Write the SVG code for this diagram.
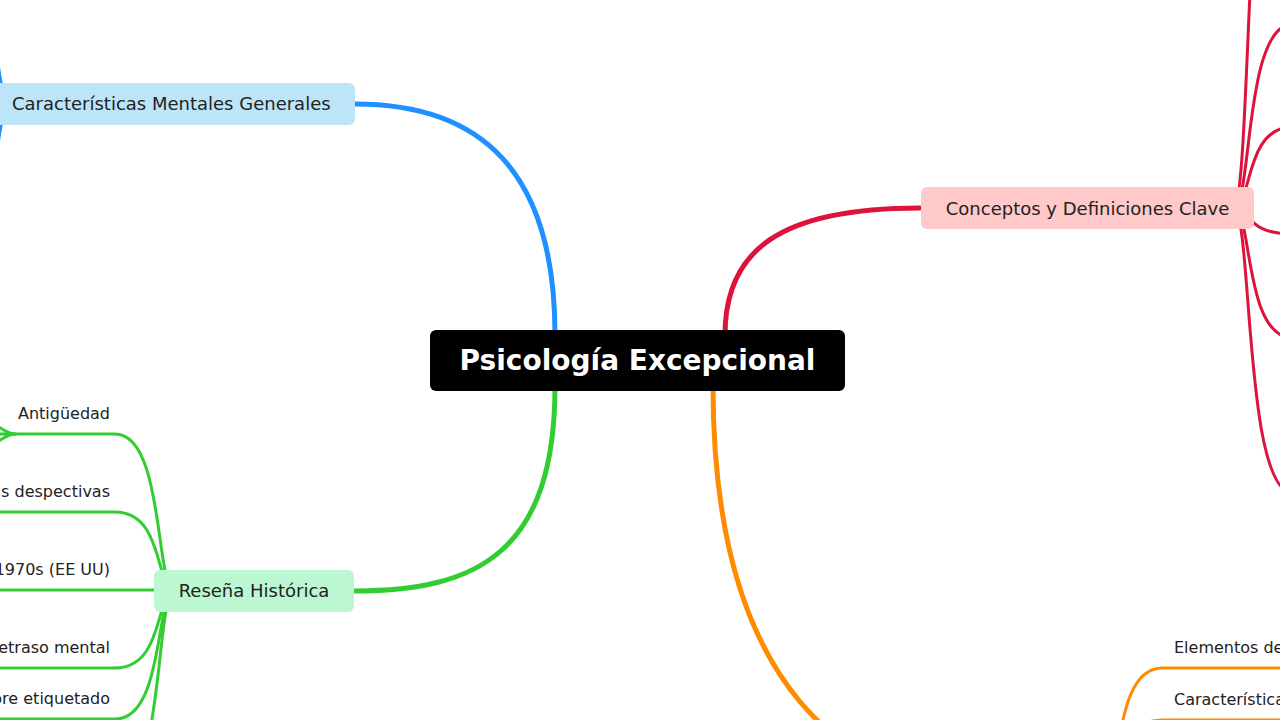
<svg xmlns="http://www.w3.org/2000/svg" width="1280" height="720" viewBox="0 0 1280 720">
<style>
  .main{fill:none;stroke-width:5;stroke-linecap:round}
  .sub{fill:none;stroke-width:3;stroke-linecap:round}
  .blue{stroke:#1e90ff}
  .red{stroke:#dc143c}
  .green{stroke:#32cd32}
  .orange{stroke:#ff8c00}
  .lbl{font-family:"DejaVu Sans","Liberation Sans",sans-serif;font-size:18px;fill:#222}
  .child{font-family:"DejaVu Sans","Liberation Sans",sans-serif;font-size:16px;fill:#222}
  .root{font-family:"DejaVu Sans","Liberation Sans",sans-serif;font-size:28px;font-weight:bold;fill:#fff}
</style>
<rect width="1280" height="720" fill="#fff"/>
<g id="connectors">
  <!-- main branches -->
  <path class="main blue" d="M555,335 C555,170 480,104 355,104"/>
  <path class="main red" d="M725,335 C725,250 780,208 920,208"/>
  <path class="main green" d="M555,386 C555,550 480,591 355,591"/>
  <path class="main orange" d="M713,386 C713,690 850,790 1000,790"/>
  <!-- blue children -->
  <path class="sub blue" d="M11,104 C-9,104 1,-60 -49,-60"/>
  <path class="sub blue" d="M11,104 C-9,104 1,270 -49,270"/>
  <!-- red children -->
  <path class="sub red" d="M1233,208 C1253,208 1243,-300 1293,-300 L1300,-300"/>
  <path class="sub red" d="M1233,208 C1253,208 1243,24 1293,24 L1300,24"/>
  <path class="sub red" d="M1233,208 C1253,208 1243,127 1293,127 L1300,127"/>
  <path class="sub red" d="M1233,208 C1253,208 1243,234 1293,234 L1300,234"/>
  <path class="sub red" d="M1233,208 C1253,208 1243,338 1293,338 L1300,338"/>
  <path class="sub red" d="M1233,208 C1253,208 1243,493 1293,493 L1300,493"/>
  <!-- green children -->
  <path class="sub green" d="M175,591 C155,591 165,434 115,434 L-10,434"/>
  <path class="sub green" d="M15,434 C8,434 4,430 -6,424"/>
  <path class="sub green" d="M15,434 C8,434 4,438 -6,444"/>
  <path class="sub green" d="M175,591 C155,591 165,512 115,512 L-10,512"/>
  <path class="sub green" d="M154,590 L-10,590"/>
  <path class="sub green" d="M175,591 C155,591 165,668 115,668 L-10,668"/>
  <path class="sub green" d="M175,591 C155,591 165,719 115,719 L-10,719"/>
  <path class="sub green" d="M175,591 C155,591 165,790 115,790 L-10,790"/>
  <!-- orange children -->
  <path class="sub orange" d="M1102,790 C1122,790 1112,668 1162,668 L1300,668"/>
  <path class="sub orange" d="M1102,790 C1122,790 1112,720 1162,720 L1300,720"/>
</g>
<g id="root">
  <rect x="430" y="330" width="415" height="61" rx="6" fill="#000"/>
  <text class="root" x="637.5" y="370" text-anchor="middle">Psicología Excepcional</text>
</g>
<g id="node-caracteristicas">
  <rect x="-13" y="83" width="368" height="42" rx="6" fill="#bde5fa"/>
  <text class="lbl" x="12" y="110">Características Mentales Generales</text>
</g>
<g id="node-conceptos">
  <rect x="921" y="187" width="333" height="42" rx="6" fill="#ffc9c9"/>
  <text class="lbl" x="1087.5" y="215" text-anchor="middle">Conceptos y Definiciones Clave</text>
</g>
<g id="node-resena">
  <rect x="154" y="570" width="200" height="42" rx="6" fill="#bbf7d0"/>
  <text class="lbl" x="254" y="597" text-anchor="middle">Reseña Histórica</text>
</g>
<g id="child-antiguedad"><text class="child" x="110" y="419" text-anchor="end">Antigüedad</text></g>
<g id="child-despectivas"><text class="child" x="110" y="497" text-anchor="end">s despectivas</text></g>
<g id="child-1970s"><text class="child" x="110" y="575" text-anchor="end">1970s (EE UU)</text></g>
<g id="child-retraso"><text class="child" x="110" y="653" text-anchor="end">etraso mental</text></g>
<g id="child-etiquetado"><text class="child" x="110" y="704" text-anchor="end">ore etiquetado</text></g>
<g id="child-elementos"><text class="child" x="1174" y="653">Elementos de</text></g>
<g id="child-caracteristicas2"><text class="child" x="1174" y="705">Característica</text></g>
</svg>
